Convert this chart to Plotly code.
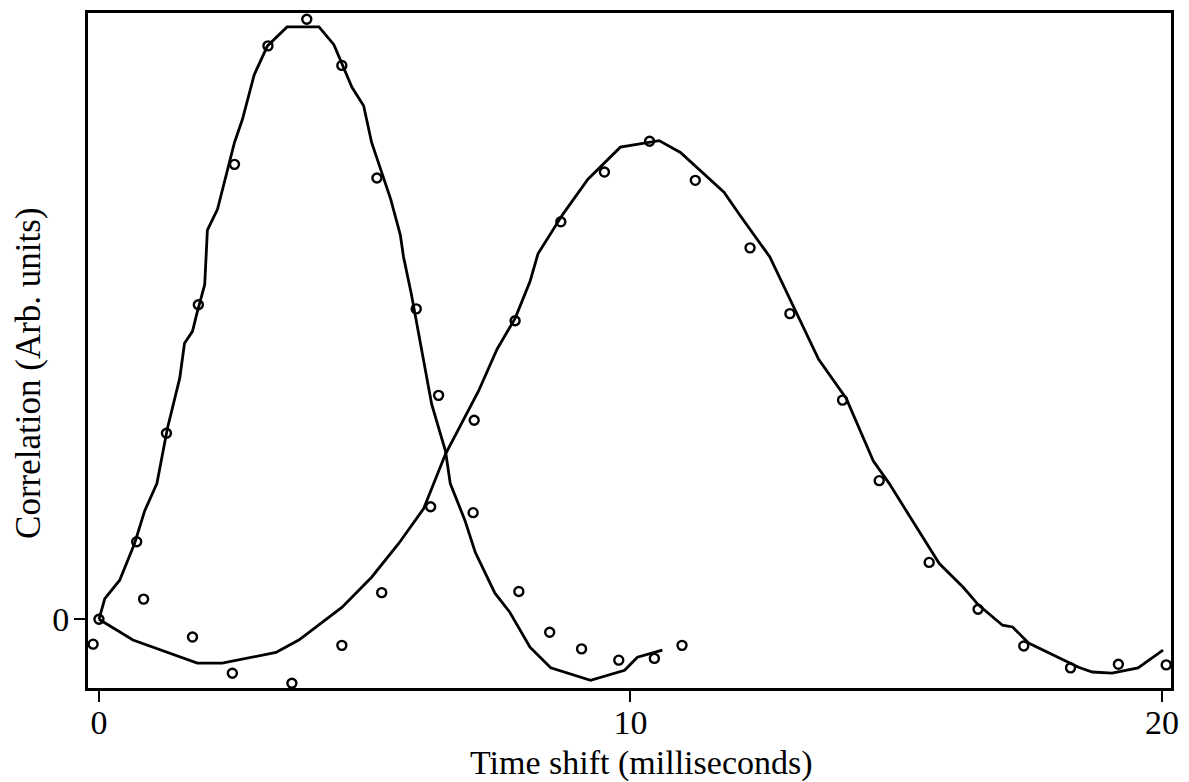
import plotly.graph_objects as go

# Fitted correlation curves (time shift in ms, correlation in arbitrary units)
fit_a_t = [0.0, 0.11, 0.39, 0.67, 0.86, 1.09, 1.29, 1.52, 1.61, 1.76, 1.85, 1.99, 2.04,
           2.23, 2.55, 2.70, 2.92, 3.17, 3.54, 4.14, 4.42, 4.61, 4.76, 4.98, 5.13, 5.49,
           5.67, 5.73, 5.88, 6.26, 6.52, 6.61, 6.82, 6.89, 7.08, 7.45, 7.73, 8.11, 8.50,
           9.25, 9.89, 10.13, 10.60]
fit_a_c = [0.0, 3.5, 6.6, 12.8, 18.3, 22.9, 32.3, 40.7, 46.6, 48.6, 51.9, 56.5, 65.7,
           69.2, 80.5, 84.4, 91.9, 96.8, 100.0, 100.0, 97.0, 92.8, 89.8, 86.7, 80.5, 70.9,
           64.9, 61.2, 54.8, 36.3, 28.4, 22.9, 18.3, 16.6, 11.3, 4.4, 1.2, -4.7, -8.2,
           -10.3, -8.6, -6.4, -5.2]

fit_b_t = [0.0, 0.64, 1.85, 2.32, 3.33, 3.76, 4.57, 5.13, 5.64, 6.11, 6.52, 7.14, 7.49,
           7.83, 8.11, 8.26, 8.73, 9.20, 9.81, 10.54, 10.94, 11.76, 12.06, 12.62, 13.54,
           13.88, 14.06, 14.57, 14.87, 15.81, 16.26, 16.55, 17.00, 17.19, 17.49, 18.43,
           18.69, 19.06, 19.55, 20.02]
fit_b_c = [0.0, -3.5, -7.4, -7.4, -5.6, -3.5, 2.0, 7.1, 12.8, 18.7, 27.9, 38.5, 45.6,
           50.8, 57.0, 61.7, 68.4, 74.3, 79.7, 80.8, 78.8, 72.1, 68.2, 61.2, 43.9,
           39.7, 37.3, 26.7, 22.9, 9.4, 5.4, 2.4, -1.0, -1.3, -4.0, -8.1,
           -8.9, -9.1, -8.2, -5.2]

# Measured correlation samples
meas_a_t = [0.0, 0.71, 1.27, 1.87, 2.55, 3.18, 3.91, 4.57, 5.23, 5.97, 6.39, 7.04,
            7.90, 8.48, 9.08, 9.78, 10.45, 10.97]
meas_a_c = [0.0, 13.1, 31.4, 53.1, 76.8, 96.8, 101.3, 93.5, 74.5, 52.4, 37.8, 18.0,
            4.7, -2.2, -5.0, -6.9, -6.6, -4.4]

meas_b_t = [-0.11, 0.84, 1.76, 2.51, 3.63, 4.57, 5.32, 6.24, 7.06, 7.83, 8.69, 9.51,
            10.36, 11.22, 12.25, 13.00, 13.99, 14.68, 15.62, 16.54, 17.40, 18.28, 19.18, 20.08]
meas_b_c = [-4.2, 3.4, -3.0, -9.1, -10.8, -4.4, 4.5, 19.0, 33.6, 50.4, 67.1, 75.5,
            80.7, 74.1, 62.7, 51.6, 37.0, 23.4, 9.6, 1.7, -4.5, -8.2, -7.6, -7.7]

x_ticks = [0, 10, 20]
y_ticks = [0]

SERIF = "Liberation Serif, Times New Roman, serif"
INK = "black"

fig = go.Figure()

for t, c in ((fit_a_t, fit_a_c), (fit_b_t, fit_b_c)):
    fig.add_trace(go.Scatter(x=t, y=c, mode="lines",
                             line=dict(color=INK, width=2.8), hoverinfo="skip"))

for t, c in ((meas_a_t, meas_a_c), (meas_b_t, meas_b_c)):
    fig.add_trace(go.Scatter(x=t, y=c, mode="markers",
                             marker=dict(symbol="circle-open", size=9, color=INK,
                                         line=dict(width=2.4, color=INK))))

axis_common = dict(showgrid=False, zeroline=False, showline=True, linecolor=INK,
                   linewidth=2.8, mirror=True, ticks="outside", tickcolor=INK,
                   tickwidth=2, ticklen=11,
                   tickfont=dict(family=SERIF, size=34, color=INK))

fig.update_xaxes(range=[-0.206, 20.17], tickvals=x_ticks, ticklabelstandoff=-9,
                 ticktext=[str(v) for v in x_ticks], **axis_common)
fig.update_yaxes(range=[-11.6, 102.35], tickvals=y_ticks, ticklabelstandoff=-2,
                 ticktext=[str(v) for v in y_ticks], **axis_common)

fig.add_annotation(text="Time shift (milliseconds)", xref="paper", yref="paper",
                   x=0.511, y=-0.111, xanchor="center", yanchor="middle",
                   showarrow=False, font=dict(family=SERIF, size=34, color=INK))
fig.add_annotation(text="Correlation (Arb. units)", xref="paper", yref="paper",
                   x=-0.055, y=0.466, xanchor="center", yanchor="middle", textangle=-90,
                   showarrow=False, font=dict(family=SERIF, size=35, color=INK))

fig.update_layout(width=1189, height=782, showlegend=False,
                  margin=dict(l=88, r=13, t=10, b=94),
                  paper_bgcolor="white", plot_bgcolor="white")

fig.write_html("out.html")
